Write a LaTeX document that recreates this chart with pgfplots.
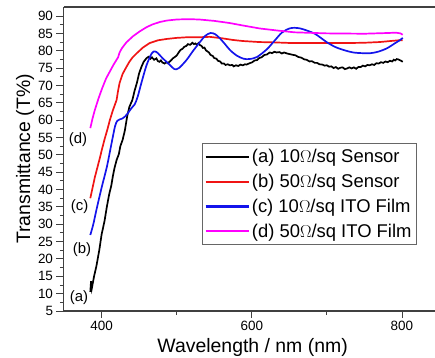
\documentclass[border=0pt]{standalone}
\usepackage{pgfplots}
\pgfplotsset{compat=1.18}
\usepackage{fontspec}
\setmainfont{Liberation Sans}
\definecolor{cmag}{RGB}{255,0,255}
\definecolor{cred}{RGB}{240,20,20}
\definecolor{cblue}{RGB}{20,20,235}
\begin{document}
\begin{tikzpicture}
\begin{axis}[
  scale only axis, width=371.5bp, height=304bp,
  xmin=349.3, xmax=844, ymin=5, ymax=92.6,
  axis y line*=left, axis x line*=box,
  axis line style={-, black!75, line width=1.1bp},
  xtick pos=bottom, ytick pos=left,
  xtick={400,600,800}, minor x tick num=1,
  ytick={5,10,...,90}, minor y tick num=1,
  tick align=outside, major tick length=7bp, minor tick length=3.5bp,
  tick style={black!75, line width=0.9bp},
  /pgf/number format/assume math mode=true,
  ticklabel style={font=\fontsize{13.5}{16}\selectfont},
  xlabel={Wavelength / nm (nm)}, ylabel={Transmittance (T\%)},
  every axis x label/.style={at={(axis description cs:0.509,-0.135)}, anchor=base, font=\fontsize{19.5}{22}\selectfont},
  every axis y label/.style={at={(axis description cs:-0.1036,0.5)}, rotate=90, anchor=center, font=\fontsize{19.5}{22}\selectfont},
  legend style={at={(axis description cs:0.372,0.5526)}, anchor=north west, draw=black!60, line width=0.8bp, font=\fontsize{18.5}{21}\selectfont, inner xsep=2.5bp, inner ysep=4bp, row sep=6bp},
  legend cell align=left,
  legend image code/.code={\draw[line width=2.3bp,#1] (0bp,0bp) -- (43bp,0bp);},
  every axis plot/.append style={line width=1.7bp},
]
\addlegendimage{black}
\addlegendentry{(a) 10$\Omega$/sq Sensor}
\addlegendimage{cred}
\addlegendentry{(b) 50$\Omega$/sq Sensor}
\addlegendimage{cblue}
\addlegendentry{(c) 10$\Omega$/sq ITO Film}
\addlegendimage{cmag}
\addlegendentry{(d) 50$\Omega$/sq ITO Film}
\addplot[black, forget plot] coordinates {
(385,10.5)(386,13.6)(387,11.5)(390,15)(393,17.8)(397,22.6)(400,27)(404,31)(407,35)(410,38.5)(413,41.2)(415,43.8)(417,46)(420,48.5)(423,50.2)(425,52.5)(428,54.3)(431,57)(434,61)(437,63.8)(441,65.8)(444,68.5)(447,70.7)(450,73.5)(453,75.3)(456,76.8)(460,77.9)(463,78.3)(465,77.7)(467,78.1)(470,77.4)(473,77.8)(475,77.0)(477,76.8)(479,77.2)(481,76.6)(484,76.3)(486,76.7)(488,76.4)(491,76.9)(495,77.8)(500,78.6)(503,79.6)(505,80.2)(508,80.6)(510,81.1)(513,81.4)(515,81.9)(518,81.7)(521,82.3)(523,81.9)(525,82.1)(527,81.7)(529,82.2)(531,81.6)(533,81.4)(535,80.8)(537,80.9)(539,80.1)(541,79.8)(543,79.5)(545,78.8)(548,78.5)(550,77.9)(553,77.7)(555,77.1)(558,76.9)(560,76.3)(563,76.3)(565,75.9)(568,76.1)(571,75.8)(574,75.9)(576,75.5)(579,75.8)(582,75.6)(585,76.0)(588,75.8)(591,76.1)(593,76.0)(597,76.4)(600,76.6)(604,77.2)(607,77.3)(610,77.9)(613,78.1)(617,78.8)(620,78.9)(624,79.5)(627,79.3)(630,79.7)(633,79.5)(637,79.6)(640,79.2)(643,79.5)(647,79.2)(651,79.0)(655,78.8)(658,78.7)(662,78.2)(666,78.0)(670,77.5)(673,77.4)(677,76.9)(680,77.0)(684,76.5)(687,76.5)(690,76.1)(694,76.0)(697,75.7)(700,75.8)(703,75.4)(706,75.5)(709,75.0)(712,75.3)(715,74.8)(718,75.1)(721,75.2)(724,74.7)(727,74.9)(730,75.2)(733,74.9)(736,75.2)(739,74.8)(742,75.3)(745,75.3)(748,75.7)(751,75.5)(754,75.9)(757,75.8)(760,76.1)(763,75.9)(766,76.4)(769,76.3)(772,76.7)(775,76.5)(778,76.9)(781,76.7)(784,77.1)(787,76.9)(789,77.4)(791,77.2)(793,77.6)(795,77.5)(797,77.3)(799,77.1)(801,76.8)
};
\addplot[cred, forget plot] coordinates {
(385,37.5)(388,40.5)(391,43.5)(394,46)(397,48.5)(401,52)(404,54.5)(408,57.5)(411,60)(415,62.8)(418,64.6)(420,65.8)(422,68.5)(424,70.7)(428,73.3)(433,75.3)(437,76.8)(441,78)(447,79.3)(455,80.9)(464,82.2)(475,83)(487,83.4)(500,83.7)(515,83.9)(531,83.9)(544,84.0)(560,83.6)(575,83.1)(588,82.8)(610,82.5)(630,82.4)(655,82.2)(690,82.2)(724,82.2)(750,82.3)(770,82.5)(785,82.8)(795,83.0)(801,83.0)
};
\addplot[cblue, smooth, forget plot] coordinates {
(385,26.9)(389,30)(393,34)(400,40.5)(407,46.5)(413,53)(418,58.3)(421,59.8)(424,60.2)(427,60.4)(431,61)(435,62)(440,63.5)(444,64.5)(448,66.7)(453,70.7)(460,75.9)(467,79.3)(471,79.8)(475,79.3)(481,77.9)(491,75.9)(497,74.7)(503,75.0)(513,77.3)(522,80.0)(531,82.5)(538,84.3)(545,85.1)(551,84.8)(557,83.7)(564,82.0)(571,80.2)(580,78.6)(589,77.7)(597,77.6)(607,78.2)(620,80.4)(630,82.8)(640,85.2)(650,86.4)(657,86.6)(665,86.4)(675,85.7)(684,84.9)(692,83.7)(701,82.3)(712,81.0)(724,80.1)(735,79.5)(747,79.3)(758,79.3)(768,79.7)(780,80.7)(791,82.2)(797,83.0)(801,83.7)
};
\addplot[cmag, forget plot] coordinates {
(385,57.7)(388,60.5)(391,62.9)(396,66.3)(401,69.3)(406,72)(411,74)(416,76)(420,77.4)(422,78.1)(424,79.5)(427,80.7)(433,82.4)(442,84.2)(451,85.6)(460,86.8)(468,87.6)(478,88.3)(487,88.7)(500,89.0)(515,89.1)(530,89.0)(550,88.6)(570,88.0)(590,87.2)(611,86.4)(635,85.8)(657,85.3)(700,85.0)(750,84.9)(780,85.1)(792,85.2)(798,85.0)(801,84.6)
};
\node[font=\fontsize{15}{18}\selectfont] at (axis cs:368.7,54.3) {(d)};
\node[font=\fontsize{15}{18}\selectfont] at (axis cs:370.7,35.1) {(c)};
\node[font=\fontsize{15}{18}\selectfont] at (axis cs:374,22.7) {(b)};
\node[font=\fontsize{15}{18}\selectfont] at (axis cs:370,8.9) {(a)};
\end{axis}
\pgfresetboundingbox
\path[use as bounding box] ([shift={(-63.5bp,-47bp)}]current axis.south west) rectangle ([shift={(0bp,7bp)}]current axis.north east);
\end{tikzpicture}
\end{document}
